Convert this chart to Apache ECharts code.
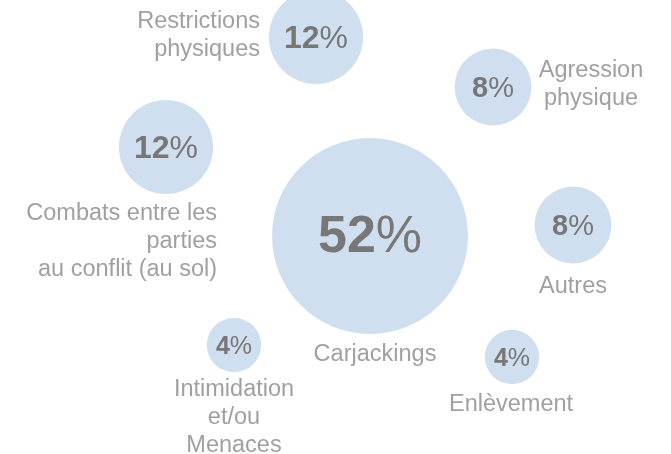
<!DOCTYPE html>
<html>
<head>
<meta charset="utf-8">
<script src="https://cdn.jsdelivr.net/npm/echarts@6/dist/echarts.min.js"></script>
<style>
    html, body { margin: 0; padding: 0; background: #fff; }
    #main { width: 671px; height: 454px; }
</style>
</head>
<body>
<div id="main"></div>
<script>
// categories and their share (%)
var categories = ['Restrictions\nphysiques', 'Agression\nphysique', 'Combats entre les\nparties\nau conflit (au sol)',
    'Carjackings', 'Autres', 'Intimidation\net/ou\nMenaces', 'Enlèvement'];
var shares = [12, 8, 12, 52, 8, 4, 4];

// bubble centres, in the 671 x 454 layout grid
var centreX = [316, 493, 166, 370, 573, 234, 512];
var centreY = [37, 87, 147, 236, 225, 345, 357];

// where each caption sits relative to its bubble
var captionOffset = [[-56, -1], [98, -2], [51, 95], [5, 119], [0, 62], [0, 73], [-1, 48]];
var captionAlign = ['right', 'center', 'right', 'center', 'center', 'center', 'center'];

var maxRadius = 98;

function radius(v) {
    return maxRadius * Math.sqrt(v / 52);
}

function chart() {
    var myChart = echarts.init(document.getElementById('main'));

    var bubbles = shares.map(function (v, i) {
        var r = radius(v);
        var fs = Math.round(14 + 0.39 * r);
        return {
            value: [centreX[i], centreY[i], v],
            label: {
                rich: {
                    b: { fontSize: fs, fontWeight: 'bold', color: '#777777', fontFamily: 'Liberation Sans' },
                    p: { fontSize: fs, color: '#777777', fontFamily: 'Liberation Sans' }
                }
            }
        };
    });

    var captions = categories.map(function (c, i) {
        return {
            value: [centreX[i], centreY[i], shares[i]],
            name: c,
            label: {
                offset: captionOffset[i],
                align: captionAlign[i]
            }
        };
    });

    var option = {
        animation: false,
        grid: { left: 0, right: 0, top: 0, bottom: 0 },
        xAxis: { type: 'value', min: 0, max: 671, show: false },
        yAxis: { type: 'value', min: 0, max: 454, inverse: true, show: false },
        series: [{
            type: 'scatter',
            data: bubbles,
            symbolSize: function (d) {
                return 2 * radius(d[2]);
            },
            itemStyle: { color: '#d0dff0', opacity: 1 },
            label: {
                show: true,
                position: 'inside',
                offset: [0, 2],
                formatter: function (p) {
                    return '{b|' + p.value[2] + '}{p|%}';
                }
            },
            emphasis: { disabled: true }
        }, {
            type: 'scatter',
            data: captions,
            symbolSize: 1,
            itemStyle: { color: 'rgba(0,0,0,0)' },
            label: {
                show: true,
                position: 'inside',
                formatter: '{b}',
                fontSize: 23.5,
                lineHeight: 28,
                color: '#888888',
                fontFamily: 'Liberation Sans',
                verticalAlign: 'middle'
            },
            emphasis: { disabled: true }
        }]
    };
    myChart.setOption(option);
}
chart();
</script>
</body>
</html>
